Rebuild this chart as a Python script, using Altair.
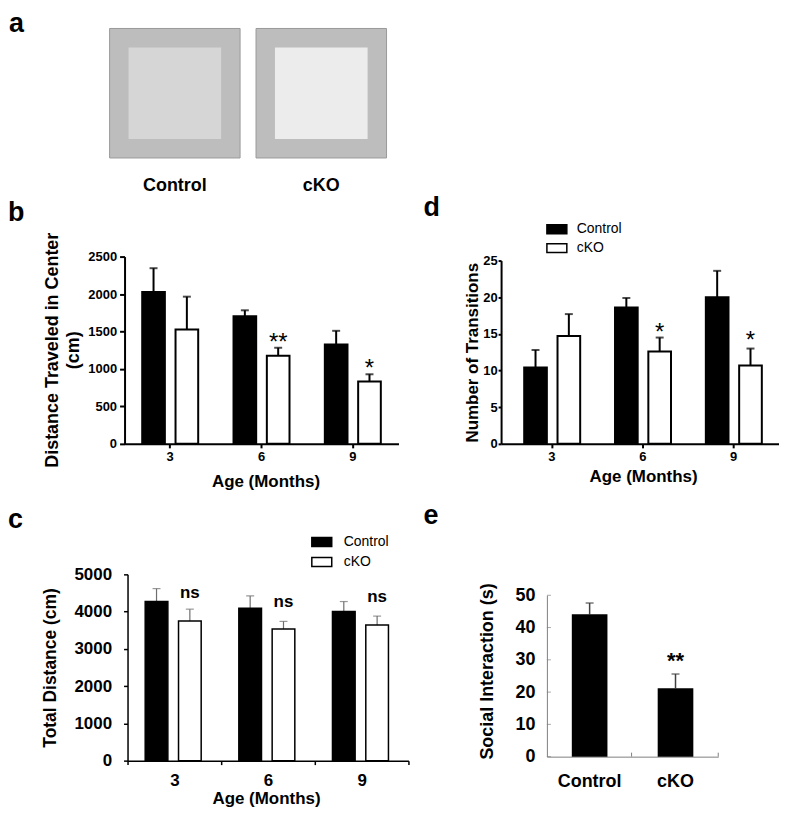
import altair as alt
import pandas as pd

FONT = "Liberation Sans"
ages = ["3", "6", "9"]
groups = ["Control", "cKO"]
arenas = ["Control", "cKO"]

# panel b : distance traveled in center (cm)
b_ctrl_mean = [2027, 1704, 1327]
b_ctrl_sem = [318, 79, 182]
b_cko_mean = [1527, 1177, 832]
b_cko_sem = [438, 106, 97]
b_star_age = ["6", "9"]
b_star_text = ["**", "*"]
b_star_y = [1423, 1077]
b_ticks = [0, 500, 1000, 1500, 2000, 2500]

# panel d : number of transitions
d_ctrl_mean = [10.4, 18.6, 20.0]
d_ctrl_sem = [2.4, 1.3, 3.6]
d_cko_mean = [14.7, 12.6, 10.7]
d_cko_sem = [3.0, 1.9, 2.3]
d_star_age = ["6", "9"]
d_star_text = ["*", "*"]
d_star_y = [15.9, 14.8]
d_ticks = [0, 5, 10, 15, 20, 25]

# panel c : total distance (cm)
c_ctrl_mean = [4270, 4093, 4004]
c_ctrl_sem = [347, 329, 266]
c_cko_mean = [3745, 3532, 3639]
c_cko_sem = [321, 205, 240]
c_ns_age = ["3", "6", "9"]
c_ns_text = ["ns", "ns", "ns"]
c_ns_y = [4492, 4251, 4385]
c_ticks = [0, 1000, 2000, 3000, 4000, 5000]

# panel e : social interaction (s)
e_mean = [44.1, 21.2]
e_sem = [3.5, 4.4]
e_star_group = ["cKO"]
e_star_text = ["**"]
e_star_y = [33.6]
e_ticks = [0, 10, 20, 30, 40, 50]

one = pd.DataFrame({"k": [0]})


def label(text, x, y, size, weight="bold", angle=0, align="center",
          baseline="alphabetic", color="black"):
    return alt.Chart(one).mark_text(
        text=text, font=FONT, fontSize=size, fontWeight=weight, angle=angle,
        align=align, baseline=baseline, color=color
    ).encode(x=alt.value(x), y=alt.value(y))


def legend(x0, y0, gap, text_x, size):
    layers = []
    for i, g in enumerate(groups):
        y = y0 + i * gap
        layers.append(alt.Chart(one).mark_rect(
            fill="black" if g == "Control" else "white", stroke="black",
            strokeWidth=1.5).encode(x=alt.value(x0), x2=alt.value(x0 + 20),
                                    y=alt.value(y), y2=alt.value(y + 9)))
        layers.append(label(g, text_x, y + 4.5, size, weight="normal",
                            align="left", baseline="middle"))
    return layers


def grouped_df(cm, cs, km, ks):
    rows = []
    for i, a in enumerate(ages):
        rows.append(dict(age=a, group="Control", mean=cm[i], top=cm[i] + cs[i]))
        rows.append(dict(age=a, group="cKO", mean=km[i], top=km[i] + ks[i]))
    return pd.DataFrame(rows)


def grouped_layers(df, star_df, yscale, xscale, offscale, xaxis, yaxis,
                   bar_sw, err_color, err_w, star_size, star_weight,
                   star_dy, star_baseline):
    x = alt.X("age:N", sort=ages, scale=xscale, axis=xaxis)
    xo = alt.XOffset("group:N", sort=groups, scale=offscale)
    base = alt.Chart(df)
    whisk = base.mark_rule(color=err_color, strokeWidth=err_w).encode(
        x=x, xOffset=xo, y=alt.Y("mean:Q", scale=yscale, axis=yaxis),
        y2="top:Q")
    cap = base.mark_tick(orient="horizontal", size=8, thickness=err_w,
                         color=err_color).encode(
        x=x, xOffset=xo, y=alt.Y("top:Q", scale=yscale, axis=yaxis))
    bars = base.mark_bar(stroke="black", strokeWidth=bar_sw).encode(
        x=x, xOffset=xo, y=alt.Y("mean:Q", scale=yscale, axis=yaxis),
        fill=alt.Fill("group:N", scale=alt.Scale(domain=groups,
                                                 range=["black", "white"]),
                      legend=None))
    stars = alt.Chart(star_df).mark_text(
        font=FONT, fontSize=star_size, fontWeight=star_weight, dy=star_dy,
        baseline=star_baseline, color="black").encode(
        x=x, xOffset=xo, y=alt.Y("y:Q", scale=yscale, axis=yaxis), text="text:N")
    return [whisk, cap, bars, stars]


def axis_style(size, tick_size, tick_w, dom_w, pad, color="black", **kw):
    return dict(labelFont=FONT, labelFontWeight="bold", labelFontSize=size,
                labelColor="black", tickSize=tick_size, tickWidth=tick_w,
                tickColor=color, domainColor=color, domainWidth=dom_w,
                labelPadding=pad, grid=False, title=None, labelOverlap=False,
                **kw)


# ---------------- panel a ----------------
a_df = pd.DataFrame({"arena": arenas})
ax = alt.X("arena:N", sort=arenas,
           scale=alt.Scale(domain=arenas, range=[-15, 263], paddingInner=0.109,
                           paddingOuter=0), axis=None)
a_outer = alt.Chart(a_df).mark_bar(size=131, color="#bdbdbd", stroke="#9a9a9a",
                                   strokeWidth=1).encode(
    x=ax, y=alt.value(0), y2=alt.value(130))
a_inner_c = alt.Chart(a_df).transform_filter(alt.datum.arena == "Control").mark_bar(
    size=93, color="#d6d6d6").encode(x=ax, y=alt.value(19), y2=alt.value(111))
a_inner_k = alt.Chart(a_df).transform_filter(alt.datum.arena == "cKO").mark_bar(
    size=93, color="#ececec").encode(x=ax, y=alt.value(19), y2=alt.value(111))
a_names = alt.Chart(a_df).mark_text(font=FONT, fontSize=18, fontWeight="bold",
                                    color="black").encode(
    x=ax, y=alt.value(158), text="arena:N")
a_anchor = alt.Chart(one).mark_rect(opacity=0).encode(
    x=alt.value(-117), x2=alt.value(-116), y=alt.value(-19), y2=alt.value(-18))
panel_a = alt.layer(a_anchor, a_outer, a_inner_c, a_inner_k, a_names,
                    label("a", -116, 4, 27, align="left")).properties(
    width=263, height=98)

blank = alt.Chart(one).mark_point(opacity=0).encode(
    x=alt.value(0), y=alt.value(0)).properties(width=10, height=10)

# ---------------- panel b ----------------
b_df = grouped_df(b_ctrl_mean, b_ctrl_sem, b_cko_mean, b_cko_sem)
b_star = pd.DataFrame({"age": b_star_age, "group": "cKO", "y": b_star_y,
                       "text": b_star_text})
b_layers = grouped_layers(
    b_df, b_star,
    yscale=alt.Scale(domain=[0, 2500], nice=False),
    xscale=alt.Scale(paddingInner=0, paddingOuter=0),
    offscale=alt.Scale(domain=groups, paddingInner=0.32, paddingOuter=0.53),
    xaxis=alt.Axis(labelAngle=0, **axis_style(13, 4, 2, 2, 3)),
    yaxis=alt.Axis(values=b_ticks, tickCount=6, format="d",
                   **axis_style(13, 5, 2, 2, 3)),
    bar_sw=2, err_color="black", err_w=2, star_size=24, star_weight="normal",
    star_dy=13, star_baseline="alphabetic")
panel_b = alt.layer(
    *b_layers,
    label("Distance Traveled in Center", -71.5, 94, 18, angle=270, baseline="middle"),
    label("(cm)", -50.5, 94, 18, angle=270, baseline="middle"),
    label("Age (Months)", 142, 231, 17),
    label("b", -117, -36, 27, align="left"),
).properties(width=275, height=188)

# ---------------- panel d ----------------
d_df = grouped_df(d_ctrl_mean, d_ctrl_sem, d_cko_mean, d_cko_sem)
d_star = pd.DataFrame({"age": d_star_age, "group": "cKO", "y": d_star_y,
                       "text": d_star_text})
d_layers = grouped_layers(
    d_df, d_star,
    yscale=alt.Scale(domain=[0, 25], nice=False, range=[188, 4]),
    xscale=alt.Scale(paddingInner=0, paddingOuter=0.03, align=1),
    offscale=alt.Scale(domain=groups, paddingInner=0.3, paddingOuter=0.46),
    xaxis=alt.Axis(labelAngle=0, **axis_style(13, 4, 2, 2, 3)),
    yaxis=alt.Axis(values=d_ticks, tickCount=6, format="d",
                   **axis_style(13, 3, 2, 2, 1)),
    bar_sw=2, err_color="black", err_w=2, star_size=24, star_weight="normal",
    star_dy=13, star_baseline="alphabetic")
panel_d = alt.layer(
    *d_layers,
    label("Number of Transitions", -28, 96.5, 17, angle=270, baseline="middle"),
    label("Age (Months)", 143, 226, 17),
    label("d", -78, -41, 27, align="left"),
    *legend(46, -32, 19, 76, 14),
).properties(width=279, height=188)

# ---------------- panel c ----------------
c_df = grouped_df(c_ctrl_mean, c_ctrl_sem, c_cko_mean, c_cko_sem)
c_ns = pd.DataFrame({"age": c_ns_age, "group": "cKO", "y": c_ns_y,
                     "text": c_ns_text})
c_layers = grouped_layers(
    c_df, c_ns,
    yscale=alt.Scale(domain=[0, 5000], nice=False),
    xscale=alt.Scale(paddingInner=0, paddingOuter=0, range=[3, 285]),
    offscale=alt.Scale(domain=groups, paddingInner=0.33, paddingOuter=0.54),
    xaxis=alt.Axis(labelAngle=0, tickBand="extent", **axis_style(17, 4, 1.5, 1.5, 8)),
    yaxis=alt.Axis(values=c_ticks, tickCount=6, format="d", offset=-3,
                   **axis_style(17, 4, 1.5, 1.5, 12)),
    bar_sw=1.5, err_color="#6e6e6e", err_w=1.2, star_size=17, star_weight="bold",
    star_dy=0, star_baseline="middle")
panel_c = alt.layer(
    *c_layers,
    label("Total Distance (cm)", -73.5, 94, 17.5, angle=270, baseline="middle"),
    label("Age (Months)", 142.5, 231, 17),
    label("c", -117, -47, 27, align="left"),
    *legend(188, -37, 20, 220, 14),
).properties(width=285, height=187)

# ---------------- panel e (group starts at the column of panel d) ----------------
E = 46  # shift of panel e plot area inside its column
e_df = pd.DataFrame({"group": groups, "mean": e_mean,
                     "top": [m + s for m, s in zip(e_mean, e_sem)]})
e_star = pd.DataFrame({"group": e_star_group, "y": e_star_y, "text": e_star_text})
e_tick_df = pd.DataFrame({"v": e_ticks})
e_y = alt.Scale(domain=[0, 50], nice=False, range=[183, 21])
e_yaxis = alt.Axis(values=e_ticks, tickCount=6, format="d", ticks=False, offset=-E,
                   **axis_style(18, 0, 1, 1, 12, color="#808080"))
e_x = alt.X("group:N", sort=groups,
            scale=alt.Scale(domain=groups, paddingInner=0.585, paddingOuter=0.29,
                            range=[E, E + 172]),
            axis=alt.Axis(labelAngle=0, ticks=False, offset=-4,
                          **axis_style(18, 0, 1, 1, 16, color="#808080")))
e_whisk = alt.Chart(e_df).mark_rule(color="#404040", strokeWidth=1.5).encode(
    x=e_x, y=alt.Y("mean:Q", scale=e_y, axis=e_yaxis), y2="top:Q")
e_cap = alt.Chart(e_df).mark_tick(orient="horizontal", size=8, thickness=1.5,
                                  color="#404040").encode(
    x=e_x, y=alt.Y("top:Q", scale=e_y, axis=e_yaxis))
e_bars = alt.Chart(e_df).mark_bar(color="black").encode(
    x=e_x, y=alt.Y("mean:Q", scale=e_y, axis=e_yaxis))
e_stars = alt.Chart(e_star).mark_text(font=FONT, fontSize=22, fontWeight="bold",
                                      dy=12.5, color="black").encode(
    x=e_x, y=alt.Y("y:Q", scale=e_y, axis=e_yaxis), text="text:N")
e_yticks = alt.Chart(e_tick_df).mark_tick(orient="horizontal", size=4,
                                          thickness=1, color="#808080").encode(
    x=alt.value(E + 2), y=alt.Y("v:Q", scale=e_y, axis=e_yaxis))
e_xtick1 = alt.Chart(one).mark_rule(color="#808080", strokeWidth=1).encode(
    x=alt.value(E + 85), y=alt.value(183), y2=alt.value(179))
e_xtick2 = alt.Chart(one).mark_rule(color="#808080", strokeWidth=1).encode(
    x=alt.value(E + 172), y=alt.value(183), y2=alt.value(179))
panel_e = alt.layer(
    e_whisk, e_cap, e_bars, e_stars, e_yticks, e_xtick1, e_xtick2,
    label("Social Interaction (s)", E - 59, 97.5, 18, angle=270, baseline="middle"),
    label("e", E - 124, -51, 27, align="left"),
).properties(width=E + 172, height=187)

chart = alt.concat(
    panel_a, blank, panel_b, panel_d, panel_c, panel_e,
    columns=2, spacing={"row": 131, "column": 93}, bounds="flush", align="each",
).properties(
    padding={"left": 0, "top": 0, "right": 0, "bottom": 0}
).configure(font=FONT).configure_view(stroke=None)

chart.save("out.html", embed_options={"renderer": "svg", "actions": False})
